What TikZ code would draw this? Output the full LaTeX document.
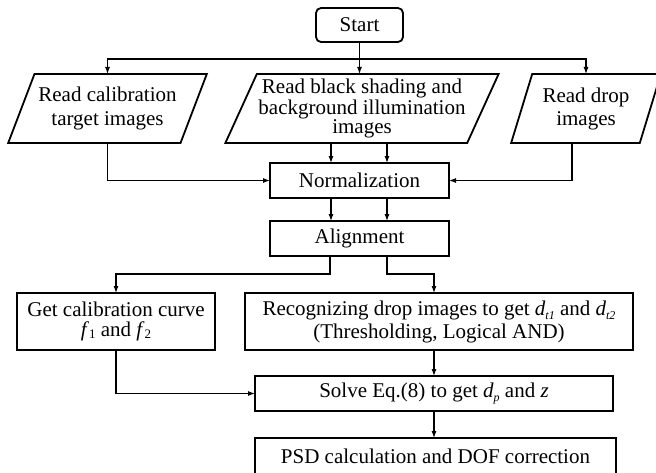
\documentclass[tikz,border=0pt]{standalone}
\usepackage{fontspec}
\setmainfont{Liberation Serif}
\usetikzlibrary{shapes.geometric,arrows.meta}
\newcommand{\subit}[1]{\raisebox{-4pt}{\fontsize{12}{12}\selectfont\textit{#1}}}
\newcommand{\subup}[1]{\raisebox{-2pt}{\fontsize{13}{13}\selectfont #1}}
\begin{document}
\begin{tikzpicture}[x=1pt,y=-1pt,
  box/.style={draw,line width=1.8pt,rectangle,inner sep=0pt,outer sep=0pt,align=center,font=\fontsize{21}{22}\selectfont},
  para/.style={draw,line width=1.8pt,trapezium,trapezium stretches=true,inner sep=0pt,outer sep=0pt,align=center},
  arr/.style={line width=1.1pt,-{Latex[length=7pt,width=5pt]}},
  conn/.style={line width=1.1pt}]
\useasboundingbox (0,0) rectangle (656,472);
\begin{scope}
\clip (0,0) rectangle (656,472);
\node[box,rounded corners=5pt,minimum width=87pt,minimum height=34pt] (start) at (359.5,25) {Start};
\node[para,trapezium left angle=60,trapezium right angle=120,minimum width=199pt,minimum height=69pt,font=\fontsize{21}{24}\selectfont] (p1) at (107.5,108.5) {Read calibration\\target images};
\node[para,trapezium left angle=62,trapezium right angle=118,minimum width=274pt,minimum height=69pt,font=\fontsize{21}{19}\selectfont] (p2) at (362,108.5) {Read black shading and\\background illumination\\images};
\node[para,trapezium left angle=68,trapezium right angle=112,minimum width=150pt,minimum height=69pt,font=\fontsize{21}{23}\selectfont] (p3) at (586,108.5) {Read drop\\images};
\node[box,minimum width=179pt,minimum height=35pt] (norm) at (359.5,180.5) {Normalization};
\node[box,minimum width=179pt,minimum height=35pt] (align) at (359.5,238.5) {Alignment};
\node[box,minimum width=198pt,minimum height=57pt,font=\fontsize{21}{20}\selectfont] (calib) at (116,321.5) {Get calibration curve\\\textit{f}\subup{1} and \textit{f}\subup{2}};
\node[box,minimum width=388pt,minimum height=57pt,font=\fontsize{21}{23}\selectfont] (recog) at (439,321.5) {Recognizing drop images to get \textit{d}\subit{t1} and \textit{d}\subit{t2}\\(Thresholding, Logical AND)};
\node[box,minimum width=358pt,minimum height=35pt] (solve) at (434,393.5) {Solve Eq.(8) to get \textit{d}\subit{p} and \textit{z}};
\node[box,minimum width=361pt,minimum height=36pt] (psd) at (435.5,456) {PSD calculation and DOF correction};
\end{scope}
\coordinate (split) at (359.5,59);
\draw[arr] (start.south) -- (p2.north -| start.south);
\draw[arr] (split) -| (p1.north);
\draw[arr] (split) -| (p3.north);
\draw[arr] ([xshift=-28.5pt]norm.north |- p2.south) -- ([xshift=-28.5pt]norm.north);
\draw[arr] ([xshift=27.5pt]norm.north |- p2.south) -- ([xshift=27.5pt]norm.north);
\draw[arr] (p1.south) |- (norm.west);
\draw[arr] ([xshift=-14pt]p3.south) |- (norm.east);
\draw[arr] ([xshift=-28.5pt]norm.south) -- ([xshift=-28.5pt]align.north);
\draw[arr] ([xshift=27.5pt]norm.south) -- ([xshift=27.5pt]align.north);
\draw[arr] ([xshift=-29.5pt]align.south) -- ++(0,18) -| (calib.north);
\draw[arr] ([xshift=27.5pt]align.south) -- ++(0,18) -| (solve.north |- recog.north);
\draw[arr] (solve.north |- recog.south) -- (solve.north);
\draw[arr] (solve.south) -- (psd.north -| solve.south);
\draw[arr] (calib.south) |- (solve.west);
\end{tikzpicture}
\end{document}
